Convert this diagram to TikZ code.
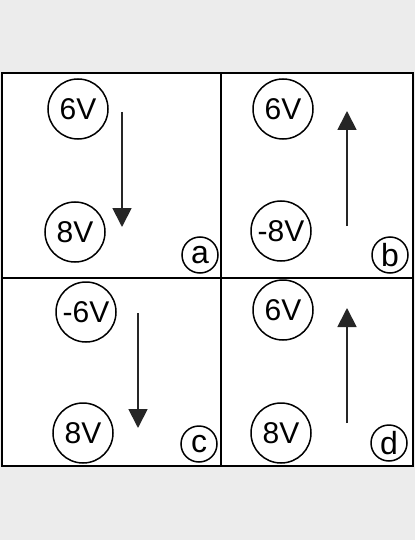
\documentclass[tikz,border=0pt]{standalone}
\usepackage{fontspec}
\setmainfont{Liberation Sans}
\usetikzlibrary{arrows.meta}

\tikzset{
  volt/.style={circle, draw=black, line width=1.5pt, minimum size=60pt, inner sep=0pt, font=\fontsize{30}{32}\selectfont},
  tag/.style={circle, draw=black, line width=1.5pt, minimum size=36pt, inner sep=0pt, font=\fontsize{32}{34}\selectfont},
  flow/.style={-{Triangle[length=19pt, width=19pt]}, line width=1.8pt, black!85}
}

\begin{document}
\begin{tikzpicture}[x=1pt, y=-1pt]
            \fill[gray!15] (0,0) rectangle (415,540);
            \useasboundingbox (0,0) rectangle (415,540);
            \draw[line width=2pt, fill=white] (2,73) rectangle (413,466);
            \draw[line width=2pt] (221,73) -- (221,466);
            \draw[line width=2pt] (2,277.5) -- (413,277.5);
            % a
            \node[volt] (a1) at (78,109) {6V};
            \node[volt] (a2) at (75,232) {8V};
            \node[tag] (la) at (200,255) {a};
            \coordinate (as) at (122,112);
            \coordinate (ae) at (122,227);
            \draw[flow] (as) -- (ae);
            % b
            \node[volt] (b1) at (283,109) {6V};
            \node[volt] (b2) at (281,231) {-8V};
            \node[tag] (lb) at (390,255) {b};
            \coordinate (bs) at (347,226);
            \coordinate (be) at (347,111);
            \draw[flow] (bs) -- (be);
            % c
            \node[volt] (c1) at (86,312) {-6V};
            \node[volt] (c2) at (83,433) {8V};
            \node[tag] (lc) at (199,444) {c};
            \coordinate (cs) at (138,313);
            \coordinate (ce) at (138,428);
            \draw[flow] (cs) -- (ce);
            % d
            \node[volt] (d1) at (283,310) {6V};
            \node[volt] (d2) at (281,433) {8V};
            \node[tag] (ld) at (389,443) {d};
            \coordinate (ds) at (347,423);
            \coordinate (de) at (347,308);
            \draw[flow] (ds) -- (de);
        \end{tikzpicture}
\end{document}
